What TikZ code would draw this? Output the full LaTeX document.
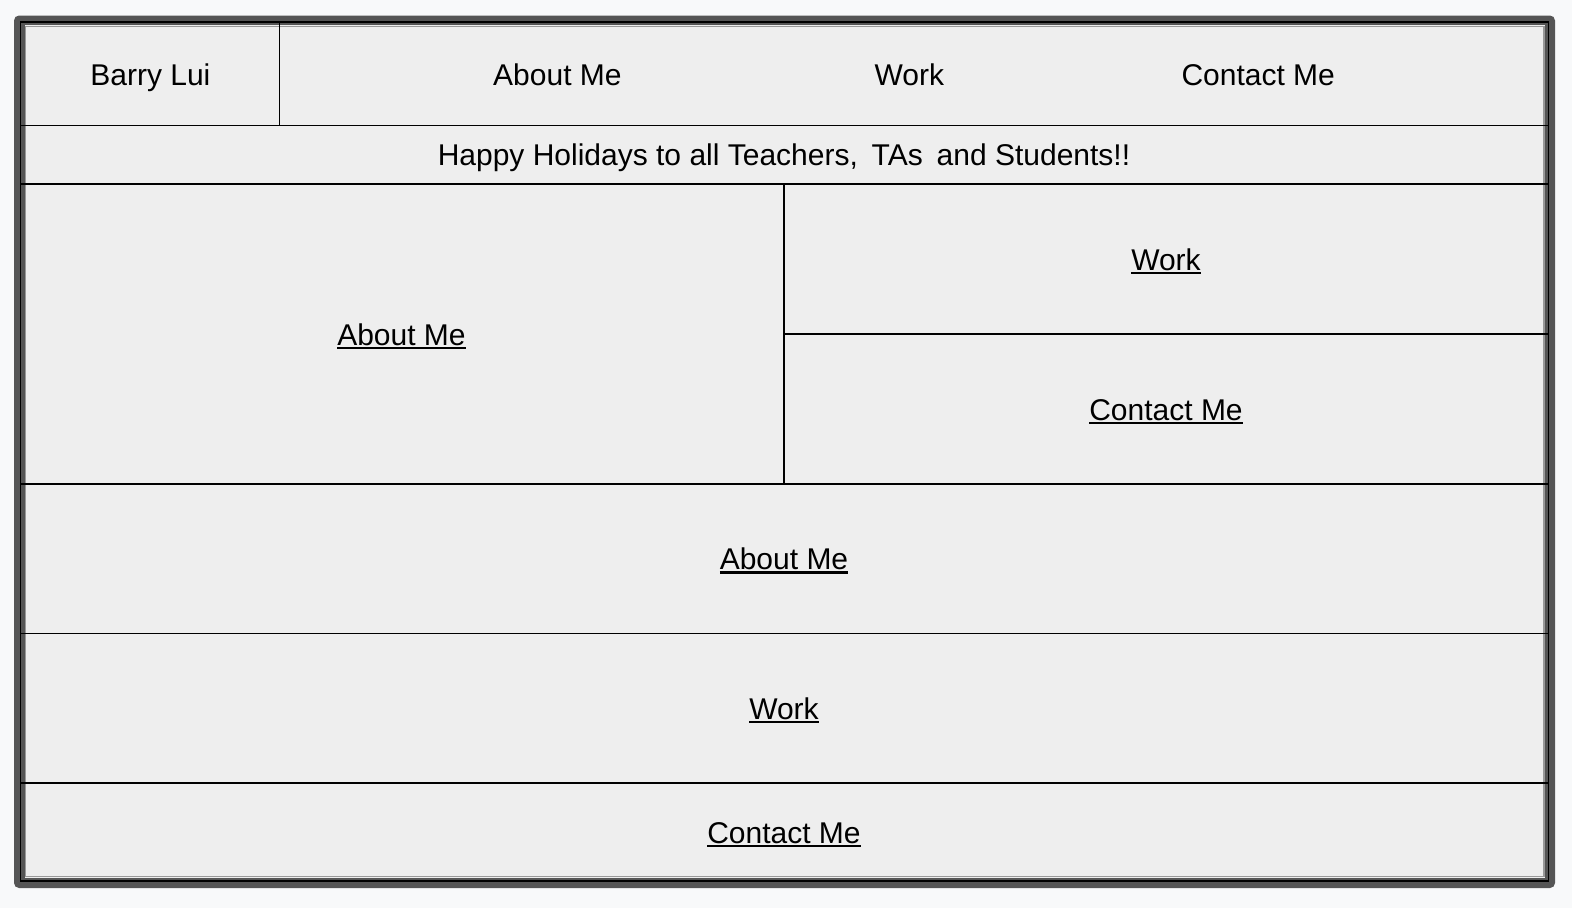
\documentclass[tikz,border=0pt]{standalone}
\usepackage{fontspec}
\setmainfont{Liberation Sans}
\definecolor{pagebg}{HTML}{F8F9FA}
\definecolor{framegray}{HTML}{555555}
\definecolor{stripegray}{HTML}{999999}
\definecolor{cellfill}{HTML}{EEEEEE}
% underlined link text
\newcommand\linkul[1]{\setbox0\hbox{#1}\rlap{\rule[-4.3pt]{\wd0}{2.6pt}}\box0}
\tikzset{
  label30/.style={anchor=base, inner sep=0pt, font=\fontsize{30}{36}\selectfont},
  cellline/.style={line width=1.6pt, black},
}
\begin{document}
\begin{tikzpicture}[x=1pt, y=-1pt]
  \useasboundingbox (0,0) rectangle (1572,908);
  \fill[pagebg] (0,0) rectangle (1572,908);
  % outer frame
  \fill[framegray, rounded corners=5pt] (14,15.5) rectangle (1555,888);
  \draw[line width=1.6pt, black] (20.3,21.8) rectangle (1548.5,880.8);
  \fill[cellfill] (24.5,25) rectangle (1544.8,877.5);
  \draw[stripegray, line width=1.6pt] (25.3,26.5) rectangle (1544,876.3);
  \fill[cellfill] (26,28) rectangle (1542.7,875);
  % grid lines
  \draw[cellline] (279.3,21.8) -- (279.3,125.5);
  \draw[cellline] (20.3,125.5) -- (1548.5,125.5);
  \draw[cellline] (20.3,184) -- (1548.5,184);
  \draw[cellline] (784,184) -- (784,484);
  \draw[cellline] (784,334) -- (1548.5,334);
  \draw[cellline] (20.3,484) -- (1548.5,484);
  \draw[cellline] (20.3,633.5) -- (1548.5,633.5);
  \draw[cellline] (20.3,783) -- (1548.5,783);
  % header
  \node[label30] (brand) at (150.4,85) {Barry Lui};
  \node[label30] (navabout) at (557.4,85) {About Me};
  \node[label30] (navwork) at (909.3,85) {Work};
  \node[label30] (navcontact) at (1258.2,85) {Contact Me};
  % banner
  \node[label30] (banner) at (784,165.8) {Happy Holidays to all Teachers,\hspace{5.5pt} TAs\hspace{5.5pt} and Students!!};
  % content cells
  \node[label30] (aboutleft) at (401.5,345) {\linkul{About Me}};
  \node[label30] (workright) at (1166,270) {\linkul{Work}};
  \node[label30] (contactright) at (1166,420) {\linkul{Contact Me}};
  \node[label30] (aboutrow) at (784,569.5) {\linkul{About Me}};
  \node[label30] (workrow) at (784,719) {\linkul{Work}};
  \node[label30] (contactrow) at (784,843) {\linkul{Contact Me}};
\end{tikzpicture}
\end{document}
